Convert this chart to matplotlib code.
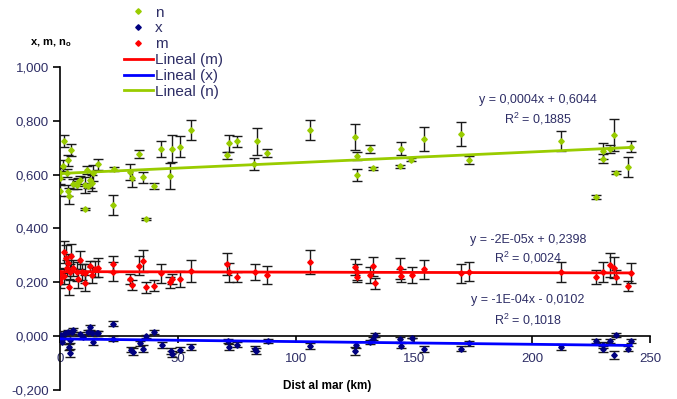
import matplotlib.pyplot as plt
from matplotlib.ticker import FuncFormatter, MultipleLocator
import numpy as np

plt.rcParams['font.family'] = ['Liberation Sans', 'DejaVu Sans']
plt.rcParams['mathtext.fontset'] = 'custom'
plt.rcParams['mathtext.rm'] = 'Liberation Sans'
plt.rcParams['mathtext.bf'] = 'Liberation Sans:bold'

# n series
n_x = [0.0, 0.0, 0.0, 1.4, 1.8, 2.8, 3.3, 3.5, 3.8, 4.7, 5.6, 7.1, 7.8, 8.5, 10.6, 10.6,
       11.6, 12.0, 12.7, 13.4, 14.1, 16.0, 22.3, 22.7, 29.7, 30.4, 33.5, 35.3, 36.3, 39.8,
       42.8, 46.6, 47.5, 51.0, 55.5, 70.6, 71.6, 74.9, 82.3, 83.3, 87.8, 105.8, 125.1,
       126.0, 126.0, 131.5, 132.8, 143.9, 144.4, 148.9, 154.2, 170.0, 173.2, 212.2, 227.0,
       230.0, 230.2, 233.0, 234.7, 235.6, 240.7, 242.0]
n_y = [0.605, 0.586, 0.540, 0.633, 0.726, 0.605, 0.654, 0.540, 0.520, 0.691, 0.565, 0.561,
       0.574, 0.580, 0.561, 0.472, 0.619, 0.559, 0.582, 0.570, 0.607, 0.638, 0.487, 0.621,
       0.610, 0.586, 0.677, 0.590, 0.435, 0.558, 0.696, 0.595, 0.696, 0.704, 0.767, 0.672,
       0.716, 0.724, 0.639, 0.724, 0.681, 0.765, 0.740, 0.668, 0.598, 0.697, 0.623, 0.631,
       0.697, 0.656, 0.732, 0.752, 0.656, 0.724, 0.516, 0.660, 0.688, 0.694, 0.747, 0.607,
       0.629, 0.704]
n_err = [0.02, 0.02, 0.02, 0.02, 0.022, 0.015, 0.02, 0.02, 0.03, 0.022, 0.02, 0.015, 0.015,
         0.015, 0.03, 0.005, 0.015, 0.01, 0.03, 0.03, 0.03, 0.02, 0.037, 0.008, 0.03, 0.03,
         0.015, 0.02, 0.004, 0.012, 0.03, 0.05, 0.05, 0.04, 0.037, 0.012, 0.03, 0.02, 0.022,
         0.05, 0.015, 0.037, 0.05, 0.015, 0.022, 0.015, 0.006, 0.005, 0.025, 0.005, 0.045,
         0.045, 0.015, 0.037, 0.008, 0.015, 0.03, 0.015, 0.06, 0.006, 0.037, 0.02]

# x series
x_x = [0.0, 0.0, 0.5, 1.0, 2.1, 3.5, 3.8, 4.2, 4.2, 4.9, 5.6, 8.5, 9.9, 12.0, 12.7, 13.4,
       13.9, 15.5, 16.2, 22.4, 22.6, 30.1, 31.1, 33.9, 35.3, 36.3, 40.0, 43.1, 46.9, 47.3,
       50.8, 55.4, 71.3, 71.7, 74.9, 82.6, 83.1, 88.0, 105.9, 125.0, 125.4, 131.4, 132.8,
       133.6, 144.0, 144.4, 149.0, 154.2, 170.0, 173.2, 212.2, 227.1, 230.0, 230.2, 233.0,
       234.7, 235.6, 240.7, 242.0]
x_y = [-0.003, -0.012, 0.005, -0.020, 0.010, 0.016, -0.040, -0.015, -0.064, 0.016, 0.022,
       0.008, -0.002, 0.016, 0.033, 0.010, -0.021, 0.010, 0.010, 0.047, -0.009, -0.050,
       -0.057, -0.027, -0.046, 0.000, 0.016, -0.033, -0.056, -0.067, -0.050, -0.040, -0.017,
       -0.040, -0.031, -0.046, -0.056, -0.019, -0.037, -0.055, -0.033, -0.021, -0.009, 0.004,
       -0.012, -0.035, -0.005, -0.048, -0.046, -0.027, -0.040, -0.019, -0.033, -0.048,
       -0.019, -0.071, 0.004, -0.046, -0.019]
x_err = [0.01, 0.01, 0.008, 0.01, 0.008, 0.008, 0.012, 0.01, 0.015, 0.008, 0.008, 0.008,
         0.008, 0.008, 0.01, 0.008, 0.01, 0.008, 0.01, 0.01, 0.008, 0.01, 0.012, 0.01, 0.012,
         0.005, 0.008, 0.01, 0.012, 0.012, 0.01, 0.01, 0.008, 0.01, 0.008, 0.01, 0.012, 0.008,
         0.01, 0.015, 0.01, 0.008, 0.006, 0.006, 0.008, 0.01, 0.0, 0.01, 0.01, 0.008, 0.01,
         0.008, 0.01, 0.01, 0.008, 0.015, 0.008, 0.01, 0.008]

# m series
m_x = [0.0, 0.0, 0.0, 1.8, 1.8, 2.5, 2.8, 3.3, 3.8, 4.2, 4.7, 5.6, 7.1, 7.8, 8.5, 9.4, 10.6,
       10.6, 12.7, 13.7, 14.8, 16.0, 22.6, 22.6, 29.7, 30.6, 33.5, 35.3, 36.5, 39.7, 42.8,
       46.4, 47.4, 50.9, 55.4, 70.6, 71.6, 74.9, 82.6, 87.9, 105.9, 125.1, 125.7, 126.0,
       131.4, 132.5, 133.6, 144.1, 144.4, 149.0, 154.2, 170.0, 173.2, 212.2, 227.1, 230.0,
       233.0, 234.7, 235.6, 240.7, 242.0]
m_y = [0.233, 0.214, 0.200, 0.313, 0.224, 0.289, 0.252, 0.270, 0.183, 0.239, 0.299, 0.252,
       0.239, 0.214, 0.283, 0.239, 0.233, 0.196, 0.261, 0.227, 0.248, 0.254, 0.267, 0.239,
       0.212, 0.190, 0.261, 0.279, 0.181, 0.188, 0.233, 0.200, 0.212, 0.212, 0.243, 0.268,
       0.237, 0.220, 0.237, 0.227, 0.275, 0.258, 0.237, 0.220, 0.227, 0.259, 0.196, 0.252,
       0.225, 0.228, 0.248, 0.233, 0.239, 0.239, 0.220, 0.237, 0.264, 0.255, 0.220, 0.186,
       0.233]
m_err = [0.015, 0.02, 0.02, 0.04, 0.03, 0.05, 0.03, 0.035, 0.03, 0.03, 0.045, 0.03, 0.035,
         0.035, 0.035, 0.03, 0.035, 0.03, 0.02, 0.03, 0.03, 0.035, 0.03, 0.035, 0.02, 0.02,
         0.035, 0.04, 0.02, 0.02, 0.035, 0.02, 0.02, 0.03, 0.04, 0.04, 0.035, 0.02, 0.03,
         0.035, 0.045, 0.03, 0.03, 0.02, 0.03, 0.035, 0.02, 0.04, 0.025, 0.03, 0.035, 0.035,
         0.035, 0.037, 0.025, 0.037, 0.045, 0.04, 0.025, 0.02, 0.037]

# trend lines (slope, intercept) as printed on the chart
trend_m = (-2e-05, 0.2398)
trend_x = (-1e-04, -0.0102)
trend_n = (0.0004, 0.6044)

green = '#99CC00'
navy = '#000080'
red = '#FF0000'
txt = '#2e2e66'

fig = plt.figure(figsize=(6.77, 3.99), dpi=100)
ax = fig.add_axes([60 / 677, 1 - 390 / 399, 590 / 677, 323 / 399])

ebkw = dict(fmt='D', ms=2.8, ecolor='#1a1a1a', elinewidth=1.0, capsize=3.5, capthick=1.0,
            zorder=3)
hn = ax.errorbar(n_x, n_y, yerr=n_err, color=green, mec=green, label='n', **ebkw)
hx = ax.errorbar(x_x, x_y, yerr=x_err, color=navy, mec=navy, label='x', **ebkw)
hm = ax.errorbar(m_x, m_y, yerr=m_err, color=red, mec=red, label='m', **ebkw)

xs = np.array([0.0, 242.0])
lm, = ax.plot(xs, trend_m[0] * xs + trend_m[1], color=red, lw=2, zorder=4, label='Lineal (m)')
lx, = ax.plot(xs, trend_x[0] * xs + trend_x[1], color='#0000FF', lw=2, zorder=4, label='Lineal (x)')
ln, = ax.plot(xs, trend_n[0] * xs + trend_n[1], color=green, lw=2, zorder=4, label='Lineal (n)')

ax.set_xlim(0, 250)
ax.set_ylim(-0.2, 1.0)
ax.spines['top'].set_visible(False)
ax.spines['right'].set_visible(False)
ax.spines['bottom'].set_position(('data', 0))
ax.spines['left'].set_linewidth(1.2)
ax.spines['bottom'].set_linewidth(1.2)
ax.xaxis.set_major_locator(MultipleLocator(50))
ax.yaxis.set_major_locator(MultipleLocator(0.2))
ax.yaxis.set_major_formatter(FuncFormatter(lambda v, p: f'{v:.3f}'.replace('.', ',')))
ax.xaxis.set_major_formatter(FuncFormatter(lambda v, p: f'{v:.0f}'))
ax.tick_params(axis='both', direction='out', length=5, width=1.2, labelsize=9.5,
               labelcolor=txt, pad=3)
ax.tick_params(axis='x', pad=7)

# regression labels
ax.text(202.5, 0.877, 'y = 0,0004x + 0,6044', ha='center', va='center', fontsize=9, color=txt)
ax.text(202.5, 0.807, 'R$^2$ = 0,1885', ha='center', va='center', fontsize=9, color=txt)
ax.text(198.3, 0.357, 'y = -2E-05x + 0,2398', ha='center', va='center', fontsize=9, color=txt)
ax.text(198.3, 0.290, 'R$^2$ = 0,0024', ha='center', va='center', fontsize=9, color=txt)
ax.text(198.3, 0.134, 'y = -1E-04x - 0,0102', ha='center', va='center', fontsize=9, color=txt)
ax.text(198.3, 0.060, 'R$^2$ = 0,1018', ha='center', va='center', fontsize=9, color=txt)

fig.text(30 / 677, 1 - 43 / 399, r'x, m, n$_\mathbf{o}$', fontsize=8, fontweight='bold',
         ha='left', va='center')
fig.text(327 / 677, 1 - 386 / 399, 'Dist al mar (km)', fontsize=8.5, fontweight='bold',
         ha='center', va='center')

leg = fig.legend([hn[0], hx[0], hm[0], lm, lx, ln],
                 ['n', 'x', 'm', 'Lineal (m)', 'Lineal (x)', 'Lineal (n)'],
                 loc='upper left', bbox_to_anchor=(122 / 677, 1 - 4 / 399), frameon=False,
                 fontsize=11, labelspacing=0.12, handlelength=1.9, handletextpad=0.15,
                 borderaxespad=0, borderpad=0.1)
for t in leg.get_texts():
    t.set_color(txt)

fig.savefig('out.png', dpi=100)
